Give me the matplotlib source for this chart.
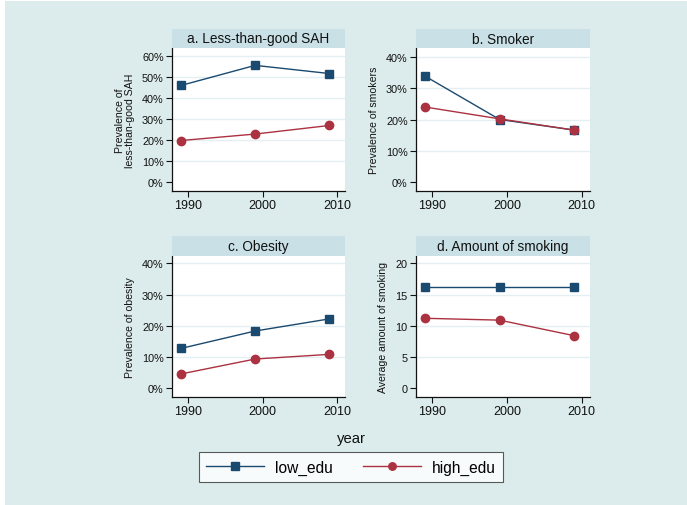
import matplotlib
matplotlib.use("Agg")
import matplotlib.pyplot as plt
from matplotlib.patches import Rectangle
from matplotlib.ticker import FuncFormatter

plt.rcParams['font.family'] = ['Liberation Sans', 'DejaVu Sans']

years = [1989, 1999, 2009]

# panel a: less-than-good self-assessed health (%)
sah_low = [46.1, 55.7, 51.8]
sah_high = [19.8, 22.9, 27.0]
# panel b: smokers (%)
smk_low = [33.9, 20.0, 16.6]
smk_high = [24.0, 20.2, 16.6]
# panel c: obesity (%)
obe_low = [12.7, 18.3, 22.2]
obe_high = [4.5, 9.3, 10.8]
# panel d: average amount of smoking
amt_low = [16.15, 16.15, 16.15]
amt_high = [11.2, 10.9, 8.4]

xticks = [1990, 2000, 2010]
series_names = ["low_edu", "high_edu"]

BG = "#dcecec"
BAND = "#c8e0e6"
GRID = "#e4eff1"
BLUE = "#1a4a70"
RED = "#ab3240"

W, H = 687, 506
fig = plt.figure(figsize=(W / 100, H / 100), dpi=100, facecolor="white")
fig.patches.append(Rectangle((5 / W, 0), 1, (H - 2) / H, transform=fig.transFigure,
                             facecolor=BG, edgecolor="none", zorder=-10))


def box(x0, y0, x1, y1):
    return [x0 / W, 1 - y1 / H, (x1 - x0) / W, (y1 - y0) / H]


pct = FuncFormatter(lambda v, p: f"{v:.0f}%")

panels = [
    dict(title="a. Less-than-good SAH", ylabel="Prevalence of\nless-than-good SAH",
         low=sah_low, high=sah_high, ylim=(-4.3, 64.0), yt=range(0, 61, 10), fmt=pct,
         px=(172, 49, 345, 192), band=(172, 30, 345, 49)),
    dict(title="b. Smoker", ylabel="Prevalence of smokers",
         low=smk_low, high=smk_high, ylim=(-2.9, 42.9), yt=range(0, 41, 10), fmt=pct,
         px=(416, 49, 590, 192), band=(416, 30, 590, 49)),
    dict(title="c. Obesity", ylabel="Prevalence of obesity",
         low=obe_low, high=obe_high, ylim=(-2.9, 42.4), yt=range(0, 41, 10), fmt=pct,
         px=(172, 257, 345, 398), band=(172, 237, 345, 257)),
    dict(title="d. Amount of smoking", ylabel="Average amount of smoking",
         low=amt_low, high=amt_high, ylim=(-1.44, 21.2), yt=range(0, 21, 5), fmt=None,
         px=(416, 257, 590, 398), band=(416, 237, 590, 257)),
]

handles = None
for p in panels:
    ax = fig.add_axes(box(*p["px"]))
    ax.set_facecolor("white")
    for ys in p["yt"]:
        if ys != 0:
            ax.axhline(ys, color=GRID, lw=1.0, zorder=0)
    l1, = ax.plot(years, p["low"], color=BLUE, lw=1.0, marker="s", ms=5.8,
                  markeredgecolor=BLUE, markerfacecolor=BLUE, zorder=3)
    l2, = ax.plot(years, p["high"], color=RED, lw=1.0, marker="o", ms=6.0,
                  markeredgecolor=RED, markerfacecolor=RED, zorder=3)
    handles = [l1, l2]
    ax.set_xlim(1987.8, 2011.1)
    ax.set_ylim(*p["ylim"])
    ax.set_xticks(xticks)
    ax.set_yticks(list(p["yt"]))
    if p["fmt"] is not None:
        ax.yaxis.set_major_formatter(p["fmt"])
    ax.spines["top"].set_visible(False)
    ax.spines["right"].set_visible(False)
    for s in ("left", "bottom"):
        ax.spines[s].set_linewidth(0.9)
        ax.spines[s].set_color("#111111")
    ax.tick_params(axis="x", labelsize=9, length=4, width=0.8, pad=2, colors="#111111")
    ax.tick_params(axis="y", labelsize=7.8, length=4, width=0.8, pad=2, colors="#111111")
    ax.set_ylabel(p["ylabel"], fontsize=7.6, labelpad=5, linespacing=0.95, color="#111111")

    bx = fig.add_axes(box(*p["band"]))
    bx.set_facecolor(BAND)
    bx.set_xticks([])
    bx.set_yticks([])
    for s in bx.spines.values():
        s.set_visible(False)
    bx.text(0.5, 0.5, p["title"], ha="center", va="center", fontsize=9.8,
            color="#111111", transform=bx.transAxes)

fig.text(351 / W, 1 - 439 / H, "year", ha="center", va="center", fontsize=10.7, color="#111111")

leg = fig.legend(handles, series_names, loc="center", ncol=2,
                 bbox_to_anchor=(351 / W, 1 - 468 / H), frameon=True, fancybox=False,
                 fontsize=11.2, handlelength=3.7, columnspacing=2.0, handletextpad=0.7,
                 borderpad=0.45, markerscale=0.9)
leg.get_frame().set_edgecolor("#333333")
leg.get_frame().set_linewidth(0.8)
leg.get_frame().set_facecolor("white")

fig.savefig("out.png", dpi=100, facecolor=fig.get_facecolor())
